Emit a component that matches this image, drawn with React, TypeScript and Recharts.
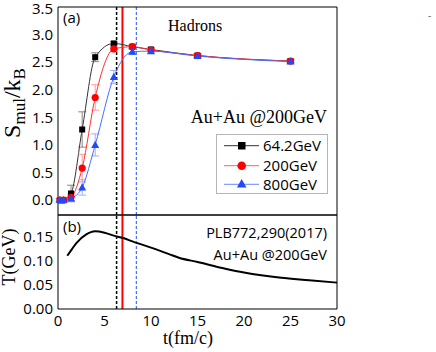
import { LineChart, Line, XAxis, YAxis, ReferenceLine, ErrorBar } from 'recharts';

// panel (a): entropy per multiplicity vs time
const times = [0.2, 0.6, 1.4, 2.6, 4, 6, 8, 10, 15, 25];
const s642 = [0, 0, 0.12, 1.28, 2.59, 2.84, 2.78, 2.73, 2.62, 2.52];
const s200 = [0, 0, 0.05, 0.58, 1.86, 2.74, 2.78, 2.72, 2.62, 2.52];
const s800 = [0, 0, 0.03, 0.23, 1.0, 2.23, 2.69, 2.7, 2.61, 2.51];
const e642 = [0.03, 0.03, 0.15, 0.32, 0.08, 0.03, 0.03, 0.03, 0.03, 0.03];
const e200 = [0.03, 0.03, 0.06, 0.25, 0.23, 0.05, 0.03, 0.03, 0.03, 0.03];
const e800 = [0.03, 0.03, 0.04, 0.14, 0.2, 0.12, 0.05, 0.04, 0.03, 0.03];

// panel (b): temperature vs time
const tempTimes = [1, 1.5, 2, 3, 4, 5, 6, 7, 8, 10, 12, 13, 15, 18, 20, 24, 27, 30];
const tempValues = [0.111, 0.125, 0.138, 0.155, 0.162, 0.159, 0.153, 0.148, 0.141, 0.128, 0.114, 0.107, 0.098, 0.084, 0.076, 0.065, 0.06, 0.055];

const xTicks = [0, 5, 10, 15, 20, 25, 30];
const xMinor = Array.from({ length: 31 }, (_, i) => i);
const yTicksA = [0, 0.5, 1, 1.5, 2, 2.5, 3, 3.5];
const yMinorA = [-0.25, 0.25, 0.75, 1.25, 1.75, 2.25, 2.75, 3.25];
const yTicksB = [0, 0.05, 0.1, 0.15];
const yMinorB = [0.025, 0.075, 0.125, 0.175];

// vertical markers (black, red, blue)
const vLines = [6.3, 6.93, 8.42];

const rowsA = times.map((t, i) => ({
  t, a: s642[i], b: s200[i], c: s800[i], ea: e642[i], eb: e200[i], ec: e800[i],
}));
const rowsB = tempTimes.map((t, i) => ({ t, T: tempValues[i] }));

const sans = 'Open Sans';
const serif = 'Liberation Serif';
const domA: [number, number] = [-0.27, 3.5];
const domB: [number, number] = [0, 0.196];

const Square = (p: any) => (
  <rect key={`sq${p.index}`} x={p.cx - 3} y={p.cy - 3} width={6} height={6} fill="#000" />
);
const Circle = (p: any) => (
  <circle key={`ci${p.index}`} cx={p.cx} cy={p.cy} r={3.6} fill="#ff0000" />
);
const Tri = (p: any) => (
  <path key={`tr${p.index}`} d={`M${p.cx},${p.cy - 4.2} L${p.cx + 4},${p.cy + 3} L${p.cx - 4},${p.cy + 3} Z`} fill="#1f4bff" />
);

const refLines = () => [
  <ReferenceLine key="v0" x={vLines[0]} stroke="#000" strokeWidth={1.5} strokeDasharray="3 2" />,
  <ReferenceLine key="v1" x={vLines[1]} stroke="#ff0000" strokeWidth={2} />,
  <ReferenceLine key="v2" x={vLines[2]} stroke="#1f4bff" strokeWidth={1} strokeDasharray="3 2" />,
];

// tick-only axes drawn inside the frame
const xTickAxes = (orient: 'top' | 'bottom', line: boolean) => [
  <XAxis key={`${orient}M`} xAxisId={`${orient}M`} orientation={orient} mirror dataKey="t" type="number" domain={[0, 30]}
    ticks={xTicks} tick={false} tickSize={5} height={10} axisLine={line} stroke="#000" />,
  <XAxis key={`${orient}m`} xAxisId={`${orient}m`} orientation={orient} mirror dataKey="t" type="number" domain={[0, 30]}
    ticks={xMinor} tick={false} tickSize={3} height={10} axisLine={false} stroke="#000" />,
];
const yTickAxes = (dom: [number, number], major: number[], minor: number[]) => [
  <YAxis key="lM" yAxisId="lM" mirror domain={dom} ticks={major} tick={false} tickSize={5} width={10} axisLine={false} stroke="#000" />,
  <YAxis key="lm" yAxisId="lm" mirror domain={dom} ticks={minor} tick={false} tickSize={3} width={10} axisLine={false} stroke="#000" />,
  <YAxis key="r" yAxisId="r" orientation="right" mirror domain={dom} tick={false} tickLine={false} width={10} stroke="#000" />,
];

export default function App() {
  return (
    <div style={{ position: 'absolute', left: 0, top: 0, width: 436, height: 352, background: '#fff' }}>
      <div style={{ position: 'absolute', left: 0, top: 0 }}>
        <LineChart width={436} height={216} data={rowsA} margin={{ top: 7, right: 99, bottom: 1, left: 18 }}>
          <XAxis dataKey="t" type="number" domain={[0, 30]} hide />
          {xTickAxes('bottom', true)}
          <XAxis xAxisId="topL" orientation="top" mirror dataKey="t" type="number" domain={[0, 30]} tick={false} tickLine={false} height={10} stroke="#000" />
          <YAxis domain={domA} ticks={yTicksA} tickSize={0} tickMargin={5} width={40} stroke="#000"
            tick={{ fontSize: 15, fill: '#000', fontFamily: sans }} tickFormatter={(v: number) => v.toFixed(1)} />
          {yTickAxes(domA, yTicksA, yMinorA)}
          {refLines()}
          <Line dataKey="a" type="monotone" stroke="#333" strokeWidth={1} dot={Square} isAnimationActive={false}>
            <ErrorBar dataKey="ea" width={4} stroke="#888" strokeWidth={1} />
          </Line>
          <Line dataKey="b" type="monotone" stroke="#ff3030" strokeWidth={1} dot={Circle} isAnimationActive={false}>
            <ErrorBar dataKey="eb" width={4} stroke="#ff9a9a" strokeWidth={1} />
          </Line>
          <Line dataKey="c" type="monotone" stroke="#4a6dff" strokeWidth={1} dot={Tri} isAnimationActive={false}>
            <ErrorBar dataKey="ec" width={4} stroke="#9db0ff" strokeWidth={1} />
          </Line>
        </LineChart>
      </div>
      <div style={{ position: 'absolute', left: 0, top: 214 }}>
        <LineChart width={436} height={138} data={rowsB} margin={{ top: 1, right: 99, bottom: 13, left: 18 }}>
          <XAxis dataKey="t" type="number" domain={[0, 30]} ticks={xTicks} tickSize={0} tickMargin={6} height={30} stroke="#000"
            tick={{ fontSize: 15, fill: '#000', fontFamily: sans }} />
          {xTickAxes('bottom', false)}
          {xTickAxes('top', true)}
          <YAxis domain={domB} ticks={yTicksB} tickSize={0} tickMargin={5} width={40} stroke="#000"
            tick={{ fontSize: 15, fill: '#000', fontFamily: sans }} tickFormatter={(v: number) => v.toFixed(2)} />
          {yTickAxes(domB, yTicksB, yMinorB)}
          {refLines()}
          <Line dataKey="T" type="monotone" stroke="#000" strokeWidth={2} dot={false} isAnimationActive={false} />
        </LineChart>
      </div>
      <svg width={436} height={352} style={{ position: 'absolute', left: 0, top: 0, pointerEvents: 'none' }}>
        <text transform="translate(20,103) rotate(-90)" textAnchor="middle" fontFamily={serif} fontSize={24} fill="#000">
          S<tspan fontSize={17} dy={5}>mul</tspan><tspan dy={-5}>/k</tspan><tspan fontSize={17} dy={5}>B</tspan>
        </text>
        <text transform="translate(15,257) rotate(-90)" textAnchor="middle" fontFamily={serif} fontSize={18} fill="#000">T(GeV)</text>
        <text x={188} y={344} textAnchor="middle" fontFamily={serif} fontSize={18} fill="#000">t(fm/c)</text>
        <text x={63} y={23} fontFamily={sans} fontSize={15} fill="#000">(a)</text>
        <text x={63} y={232} fontFamily={sans} fontSize={15} fill="#000">(b)</text>
        <text x={168} y={31} fontFamily={serif} fontSize={16} fill="#000">Hadrons</text>
        <text x={327} y={123} textAnchor="end" fontFamily={serif} fontSize={18} fill="#000">Au+Au @200GeV</text>
        <text x={327} y={238} textAnchor="end" fontFamily={sans} fontSize={14.5} fill="#000">PLB772,290(2017)</text>
        <text x={327} y={260} textAnchor="end" fontFamily={sans} fontSize={14.5} fill="#000">Au+Au @200GeV</text>
        <text x={428} y={19} fontFamily={sans} fontSize={10} fill="#666">-</text>
        <rect x={216.5} y={134.5} width={111} height={59} fill="#fff" stroke="#b5b5b5" />
        <line x1={224} x2={259} y1={145.7} y2={145.7} stroke="#333" />
        <rect x={238} y={142} width={7.5} height={7.5} fill="#000" />
        <text x={263} y={151} fontFamily={sans} fontSize={15} fill="#000">64.2GeV</text>
        <line x1={224} x2={259} y1={165.7} y2={165.7} stroke="#ff6060" />
        <circle cx={241.7} cy={165.7} r={4.3} fill="#ff0000" />
        <text x={263} y={171} fontFamily={sans} fontSize={15} fill="#000">200GeV</text>
        <line x1={224} x2={259} y1={184.3} y2={184.3} stroke="#6a88ff" />
        <path d="M241.7,179 L246.5,187.5 L236.9,187.5 Z" fill="#1f4bff" />
        <text x={263} y={190} fontFamily={sans} fontSize={15} fill="#000">800GeV</text>
      </svg>
    </div>
  );
}
